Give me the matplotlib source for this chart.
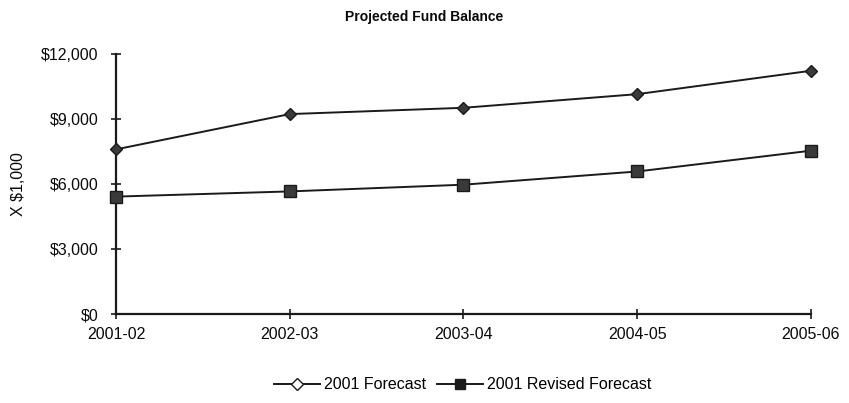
import matplotlib
matplotlib.use("Agg")
import matplotlib.pyplot as plt
from matplotlib.lines import Line2D
from matplotlib.ticker import FuncFormatter, MultipleLocator

plt.rcParams['font.family'] = ['Liberation Sans', 'DejaVu Sans']

years = ["2001-02", "2002-03", "2003-04", "2004-05", "2005-06"]
forecast = [7600, 9230, 9520, 10150, 11230]
revised = [5420, 5660, 5970, 6580, 7540]

fig = plt.figure(figsize=(8.49, 4.03), dpi=100)
ax = fig.add_axes([0.1366, 0.2208, 0.8186, 0.645])

x = range(len(years))
ax.plot(x, forecast, color='#1a1a1a', lw=1.4, marker='D', markersize=6,
        markerfacecolor='#3a3a3a', markeredgecolor='#1a1a1a', clip_on=False, zorder=3)
ax.plot(x, revised, color='#1a1a1a', lw=1.4, marker='s', markersize=8,
        markerfacecolor='#3a3a3a', markeredgecolor='#1a1a1a', clip_on=False, zorder=3)

ax.set_xlim(0, len(years) - 1)
ax.set_ylim(0, 12000)
ax.set_xticks(list(x))
ax.set_xticklabels(years)
ax.yaxis.set_major_locator(MultipleLocator(3000))
ax.yaxis.set_major_formatter(FuncFormatter(lambda v, p: f"${v:,.0f}"))

for side in ('top', 'right'):
    ax.spines[side].set_visible(False)
for side in ('left', 'bottom'):
    ax.spines[side].set_linewidth(1.6)
    ax.spines[side].set_color('#1a1a1a')

ax.tick_params(axis='both', direction='inout', length=7, width=1.2, colors='#1a1a1a',
               labelsize=11.5, labelcolor='#0a0a0a')
ax.tick_params(axis='y', pad=9)
ax.tick_params(axis='x', pad=6)

ax.set_ylabel("X $1,000", fontsize=11.5, color='#0a0a0a', labelpad=11)
fig.text(0.5, 0.958, "Projected Fund Balance", ha='center', va='center',
         fontsize=10, fontweight='bold', color='#0a0a0a')

handles = [
    Line2D([], [], color='#1a1a1a', lw=1.4, marker='D', markersize=6,
           markerfacecolor='white', markeredgecolor='#1a1a1a'),
    Line2D([], [], color='#1a1a1a', lw=1.4, marker='s', markersize=7,
           markerfacecolor='#1a1a1a', markeredgecolor='#1a1a1a'),
]
fig.legend(handles, ["2001 Forecast", "2001 Revised Forecast"], loc='center',
           bbox_to_anchor=(0.545, 0.045), ncol=2, frameon=False, fontsize=11.5,
           handlelength=2.9, handletextpad=0.25, columnspacing=0.7)

fig.savefig("out.png", dpi=100)
